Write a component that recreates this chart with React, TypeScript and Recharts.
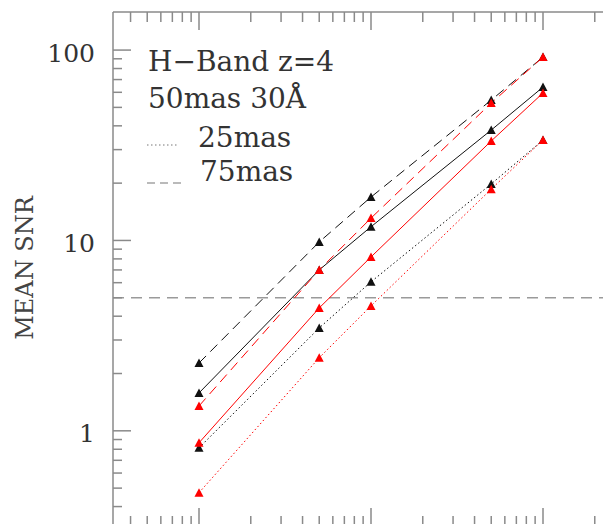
import { ComposedChart, Line, XAxis, YAxis, ReferenceLine } from "recharts";

// exposure values (x) and mean SNR for each configuration
const xValues = [1, 5, 10, 50, 100];
const black50 = [1.58, 7.0, 11.8, 38.0, 63.9];
const red50 = [0.865, 4.42, 8.19, 33.3, 59.5];
const black25 = [0.814, 3.47, 6.06, 19.8, 33.7];
const red25 = [0.473, 2.42, 4.53, 18.6, 33.7];
const black75 = [2.27, 9.82, 16.9, 54.6, 91.9];
const red75 = [1.35, 7.0, 13.1, 52.7, 91.9];

const xTicks = [
  0.4, 0.5, 0.6, 0.7, 0.8, 0.9, 1, 2, 3, 4, 5, 6, 7, 8, 9, 10, 20, 30, 40, 50,
  60, 70, 80, 90, 100, 200, 300,
];
const yTicks = [
  0.4, 0.5, 0.6, 0.7, 0.8, 0.9, 1, 2, 3, 4, 5, 6, 7, 8, 9, 10, 20, 30, 40, 50,
  60, 70, 80, 90, 100,
];
const yLabels = [1, 10, 100];

const data = xValues.map((x, i) => ({
  x,
  black50: black50[i],
  red50: red50[i],
  black25: black25[i],
  red25: red25[i],
  black75: black75[i],
  red75: red75[i],
}));

const AXIS = "#8a8a8a";
const TEXT = "#333";
const FONT = "'DejaVu Serif', serif";

const isMajor = (v: number) => {
  const l = Math.log10(v);
  return Math.abs(l - Math.round(l)) < 1e-6;
};

const TopTick = ({ x, y, payload }: any) => {
  const len = isMajor(payload.value) ? 18 : 10;
  return <line x1={x} y1={y} x2={x} y2={y + len} stroke={AXIS} strokeWidth={1.5} />;
};

const BottomTick = ({ x, y, payload }: any) => {
  const len = isMajor(payload.value) ? 18 : 10;
  return <line x1={x} y1={y} x2={x} y2={y - len} stroke={AXIS} strokeWidth={1.5} />;
};

const LeftTick = ({ x, y, payload }: any) => {
  const major = isMajor(payload.value);
  const len = major ? 18 : 9;
  return (
    <g>
      <line x1={x} y1={y} x2={x + len} y2={y} stroke={AXIS} strokeWidth={1.5} />
      {yLabels.includes(payload.value) && (
        <text
          x={x - 18}
          y={y + 11.5}
          textAnchor="end"
          fontFamily={FONT}
          fontSize={25}
          fill={TEXT}
        >
          {payload.value}
        </text>
      )}
    </g>
  );
};

const RightTick = ({ x, y, payload }: any) => {
  const len = isMajor(payload.value) ? 18 : 9;
  return <line x1={x} y1={y} x2={x - len} y2={y} stroke={AXIS} strokeWidth={1.5} />;
};

const Tri = ({ cx, cy, color }: any) => {
  if (cx == null || cy == null) return null;
  return (
    <polygon
      points={`${cx - 4.5},${cy + 4} ${cx + 4.5},${cy + 4} ${cx},${cy - 4.5}`}
      fill={color}
    />
  );
};

const series = [
  { key: "black25", color: "#111", dash: "1.5 2.5" },
  { key: "black50", color: "#111", dash: undefined },
  { key: "black75", color: "#111", dash: "10 6" },
  { key: "red25", color: "#ff0000", dash: "1.5 2.5" },
  { key: "red50", color: "#ff0000", dash: undefined },
  { key: "red75", color: "#ff0000", dash: "10 6" },
];

const App = () => {
  return (
    <div style={{ position: "relative", width: 603, height: 516, overflow: "hidden", background: "#fff" }}>
      <ComposedChart
        width={640}
        height={530}
        data={data}
        margin={{ top: 3, left: 104, right: 18, bottom: 11 }}
      >
        <XAxis
          xAxisId="top"
          orientation="top"
          dataKey="x"
          type="number"
          scale="log"
          domain={[0.31623, 316.23]}
          ticks={xTicks}
          interval={0}
          height={1}
          tickLine={false}
          tickSize={0}
          tickMargin={0}
          axisLine={{ stroke: AXIS, strokeWidth: 1.5 }}
          tick={(p: any) => <TopTick {...p} />}
          allowDataOverflow
        />
        <XAxis
          xAxisId="bottom"
          orientation="bottom"
          dataKey="x"
          type="number"
          scale="log"
          domain={[0.31623, 316.23]}
          ticks={xTicks}
          interval={0}
          height={1}
          tickLine={false}
          tickSize={0}
          tickMargin={0}
          axisLine={{ stroke: AXIS, strokeWidth: 1.5 }}
          tick={(p: any) => <BottomTick {...p} />}
          allowDataOverflow
        />
        <YAxis
          yAxisId="left"
          orientation="left"
          type="number"
          scale="log"
          domain={[0.31623, 158.49]}
          ticks={yTicks}
          interval={0}
          width={1}
          tickLine={false}
          tickSize={0}
          tickMargin={0}
          axisLine={{ stroke: AXIS, strokeWidth: 1.5 }}
          tick={(p: any) => <LeftTick {...p} />}
          allowDataOverflow
        />
        <YAxis
          yAxisId="right"
          orientation="right"
          type="number"
          scale="log"
          domain={[0.31623, 158.49]}
          ticks={yTicks}
          interval={0}
          width={1}
          tickLine={false}
          tickSize={0}
          tickMargin={0}
          axisLine={{ stroke: AXIS, strokeWidth: 1.5 }}
          tick={(p: any) => <RightTick {...p} />}
          allowDataOverflow
        />
        <ReferenceLine
          xAxisId="top"
          yAxisId="left"
          y={5}
          stroke="#9a9a9a"
          strokeWidth={1.5}
          strokeDasharray="11 7"
        />
        {series.map((s) => (
          <Line
            key={s.key}
            xAxisId="top"
            yAxisId="left"
            type="linear"
            dataKey={s.key}
            stroke={s.color}
            strokeWidth={1}
            strokeDasharray={s.dash}
            dot={(p: any) => <Tri key={`${s.key}-${p.index}`} cx={p.cx} cy={p.cy} color={s.color} />}
            activeDot={false}
            isAnimationActive={false}
          />
        ))}
      </ComposedChart>
      <svg
        width={603}
        height={516}
        style={{ position: "absolute", left: 0, top: 0, pointerEvents: "none" }}
      >
        <text
          transform="translate(17,260) rotate(-90)"
          textAnchor="middle"
          dominantBaseline="central"
          fontFamily={FONT}
          fontSize={24}
          fill="#444"
        >
          MEAN SNR
        </text>
        <g fontFamily={FONT} fontSize={28} fill={TEXT}>
          <text x={140} y={63}>H−Band z=4</text>
          <text x={140} y={100}>50mas 30Å</text>
          <text x={190} y={139}>25mas</text>
          <text x={192} y={173}>75mas</text>
        </g>
        <line x1={139} y1={137} x2={171} y2={137} stroke="#777" strokeWidth={1} strokeDasharray="1.5 2.5" />
        <line x1={139} y1={175} x2={174} y2={175} stroke="#777" strokeWidth={1.2} strokeDasharray="8 5" />
      </svg>
    </div>
  );
};

export default App;
